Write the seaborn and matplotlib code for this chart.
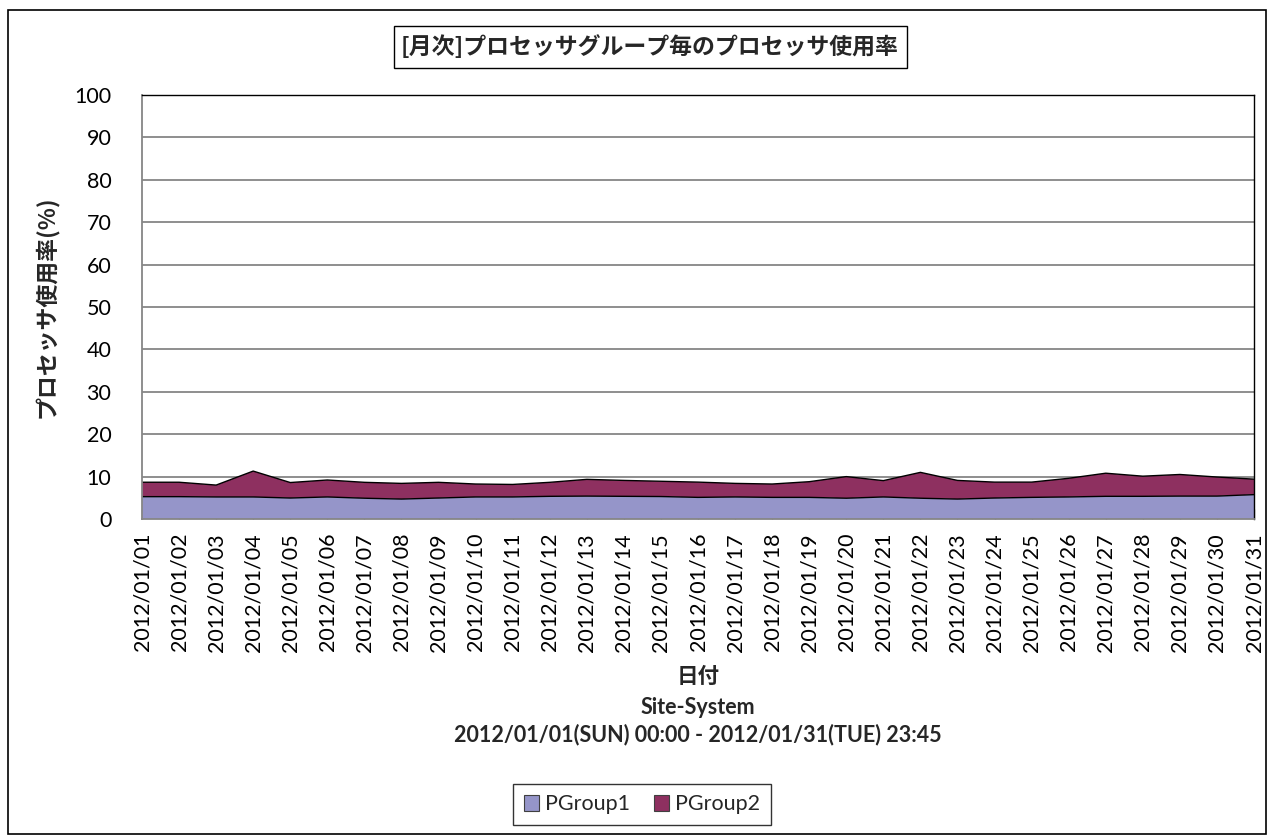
import numpy as np
import pandas as pd
import matplotlib
matplotlib.use("Agg")
import matplotlib.pyplot as plt
from matplotlib.patches import Patch, Rectangle
import seaborn as sns
import seaborn.objects as so

# ---- data -------------------------------------------------------------
dates = [f"2012/01/{d:02d}" for d in range(1, 32)]
pgroup1 = [5.27, 5.27, 5.2, 5.2, 4.95, 5.2, 4.9, 4.7, 4.95, 5.2, 5.2,
           5.35, 5.4, 5.35, 5.3, 5.1, 5.2, 5.1, 5.1, 4.9, 5.2, 4.9,
           4.7, 4.95, 5.1, 5.2, 5.35, 5.35, 5.4, 5.4, 5.75]
pgroup2 = [3.4, 3.4, 2.8, 6.1, 3.65, 4.0, 3.75, 3.7, 3.7, 3.05, 2.95,
           3.3, 3.95, 3.75, 3.6, 3.6, 3.2, 3.15, 3.7, 5.1, 3.85, 6.1,
           4.4, 3.75, 3.6, 4.4, 5.45, 4.75, 5.1, 4.5, 3.65]
groups = ["PGroup1", "PGroup2"]
yticks = list(range(0, 101, 10))

title = "[月次]プロセッサグループ毎のプロセッサ使用率"
ylabel = "プロセッサ使用率(%)"
xlabel = "日付"
subtitle1 = "Site-System"
subtitle2 = "2012/01/01(SUN) 00:00 - 2012/01/31(TUE) 23:45"

colors = {"PGroup1": "#9595C9", "PGroup2": "#8E3060"}

# ---- style ------------------------------------------------------------
sns.set_theme(style="white")
plt.rcParams["font.family"] = ["Lato", "Noto Sans CJK JP", "DejaVu Sans"]
CJK = ["Noto Sans CJK JP", "DejaVu Sans"]
GRID = "#868686"
TICK_FS = 15.5

W, H = 1274, 836
fig = plt.figure(figsize=(W / 100, H / 100), dpi=100)
fig.patch.set_facecolor("white")

L, R, T, B = 142, 1254, 95, 519
ax = fig.add_axes([L / W, 1 - B / H, (R - L) / W, (B - T) / H])

idx = np.arange(len(dates))
df = pd.DataFrame({
    "day": np.concatenate([idx, idx]),
    "value": np.concatenate([pgroup1, pgroup2]),
    "group": np.repeat(groups, len(dates)),
})

# stacked areas
(
    so.Plot(df, x="day", y="value", color="group")
    .add(so.Area(alpha=1, edgewidth=0), so.Stack(), legend=False)
    .scale(color=colors)
    .on(ax)
    .plot()
)

# boundary lines on top of each stacked layer
cum1 = np.array(pgroup1)
cum2 = cum1 + np.array(pgroup2)
sns.lineplot(x=idx, y=cum1, ax=ax, color="black", lw=1.0, legend=False)
sns.lineplot(x=idx, y=cum2, ax=ax, color="black", lw=1.0, legend=False)

ax.set_facecolor("white")
ax.set_xlim(0, len(dates) - 1)
ax.set_ylim(0, 100)
ax.set_yticks(yticks)
ax.set_yticklabels([str(v) for v in yticks], fontsize=TICK_FS)
ax.set_xticks(idx)
ax.set_xticklabels(dates, rotation=90, fontsize=TICK_FS)
ax.tick_params(axis="x", direction="in", length=7, width=1, color=GRID,
               pad=10, bottom=True)
ax.tick_params(axis="y", length=0, pad=22)
for lab in ax.get_yticklabels() + ax.get_xticklabels():
    lab.set_color("black")

ax.grid(False)
ax.yaxis.grid(True, color=GRID, lw=1.3)
ax.set_axisbelow(True)

ax.spines["left"].set_color(GRID)
ax.spines["bottom"].set_color(GRID)
ax.spines["left"].set_linewidth(1.3)
ax.spines["bottom"].set_linewidth(1.3)
ax.spines["top"].set_color("black")
ax.spines["right"].set_color("black")
ax.spines["top"].set_linewidth(1.0)
ax.spines["right"].set_linewidth(1.0)

ax.set_xlabel("")
ax.set_ylabel(ylabel, family=CJK, fontweight="bold", fontsize=16.5)
ax.yaxis.set_label_coords(-(L - 59) / (R - L), 0.5)

cx = (L + R) / 2 / W
fig.text(cx, 1 - 676 / H, xlabel, family=CJK, fontweight="bold",
         fontsize=15.5, ha="center", va="center")
fig.text(cx, 1 - 708 / H, subtitle1, fontweight="bold", fontsize=15.5,
         ha="center", va="center")
fig.text(cx, 1 - 735 / H, subtitle2, fontweight="bold", fontsize=15.5,
         ha="center", va="center")

# title in a framed box
fig.patches.append(Rectangle((394 / W, 1 - 68 / H), (907 - 394) / W,
                             (68 - 26) / H, transform=fig.transFigure,
                             fill=False, edgecolor="black", lw=1.0))
fig.text(650 / W, 1 - 47 / H, title, family=CJK, fontweight="bold",
         fontsize=16.5, ha="center", va="center")

# outer frame
fig.patches.append(Rectangle((8 / W, 1 - 834 / H), (1266 - 8) / W,
                             (834 - 10) / H, transform=fig.transFigure,
                             fill=False, edgecolor="black", lw=1.2))

handles = [Patch(facecolor=colors[g], edgecolor="#404040", lw=0.8, label=g)
           for g in groups]
leg = fig.legend(handles=handles, loc="center", ncol=2,
                 bbox_to_anchor=(642 / W, 1 - 804.5 / H), frameon=True,
                 fancybox=False, edgecolor="black", fontsize=TICK_FS,
                 handlelength=0.7, handleheight=0.7, handletextpad=0.3,
                 columnspacing=1.1, borderpad=0.5)
leg.get_frame().set_linewidth(1.0)

fig.savefig("out.png", dpi=100, facecolor="white")
